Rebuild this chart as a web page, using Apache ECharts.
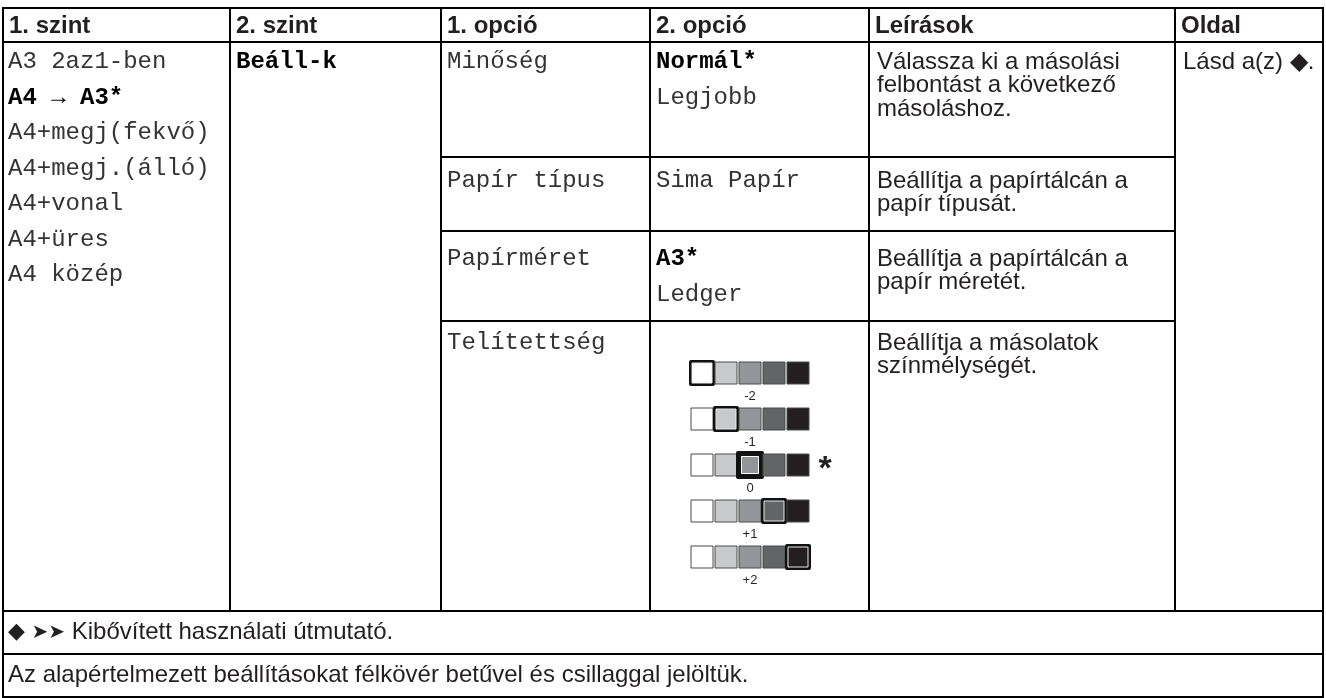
<!DOCTYPE html>
<html><head><meta charset="utf-8">
<script src="https://cdn.jsdelivr.net/npm/echarts@6/dist/echarts.min.js"></script>
<style>html,body{margin:0;padding:0;background:#fff}#c{width:1326px;height:698px}</style>
</head><body><div id="c"></div>
<script>
// ---- content ----
const headers = ['1. szint', '2. szint', '1. opció', '2. opció', 'Leírások', 'Oldal'];
const level1Items = ['A3 2az1-ben', 'A4 → A3*', 'A4+megj(fekvő)', 'A4+megj.(álló)', 'A4+vonal', 'A4+üres', 'A4 közép'];
const level1Defaults = ['A4 → A3*'];
const level2Items = ['Beáll-k'];
const option1Items = ['Minőség', 'Papír típus', 'Papírméret', 'Telítettség'];
const option2Items = [['Normál*', 'Legjobb'], ['Sima Papír'], ['A3*', 'Ledger'], []];
const option2Defaults = ['Normál*', 'A3*'];
const descriptions = [
  ['Válassza ki a másolási', 'felbontást a következő', 'másoláshoz.'],
  ['Beállítja a papírtálcán a', 'papír típusát.'],
  ['Beállítja a papírtálcán a', 'papír méretét.'],
  ['Beállítja a másolatok', 'színmélységét.']
];
const pageRef = 'Lásd a(z) ◆.';
const footnotes = ['◆ ➤➤ Kibővített használati útmutató.', 'Az alapértelmezett beállításokat félkövér betűvel és csillaggal jelöltük.'];
const saturationLevels = ['-2', '-1', '0', '+1', '+2'];
const shadeSteps = ['1', '2', '3', '4', '5'];
const shadeColors = ['#ffffff', '#c8c9cb', '#939598', '#636466', '#231f20'];
const defaultSaturation = '0';

// ---- layout ----
const colX = [3, 230, 441, 650, 869, 1175, 1323];
const headTop = 8, headBottom = 42;
const rowY = [42, 157, 231, 321, 611];
const rowFirstOff = [20, 24, 28, 22];
const footY = [611, 654, 697];
const INK = '#231f20';
const MONO_INK = '#333333';
const SANS = '"Liberation Sans", Arial, sans-serif';
const MONO = '"Liberation Mono", "Courier New", monospace';
const fSans = '24px ' + SANS, fSansB = 'bold 24px ' + SANS;
const fMono = '24px ' + MONO, fMonoB = 'bold 24px ' + MONO;
const monoStep = 35.5, sansStep = 23.5;

const els = [];
function line(x1, y1, x2, y2, w) {
  els.push({type: 'line', silent: true, shape: {x1, y1, x2, y2}, style: {stroke: '#000', lineWidth: w || 2}});
}
function text(t, x, y, font, fill, rich) {
  els.push({type: 'text', silent: true, x, y, style: {text: t, font, fill: fill || INK, rich, align: 'left', verticalAlign: 'middle', textAlign: 'left', textVerticalAlign: 'middle'}});
}
// borders
els.push({type: 'rect', silent: true, shape: {x: colX[0], y: headTop, width: colX[6] - colX[0], height: footY[2] - headTop}, style: {fill: 'none', stroke: '#000', lineWidth: 2}});
line(colX[0], headBottom, colX[6], headBottom);
for (let i = 1; i < colX.length - 1; i++) line(colX[i], headTop, colX[i], rowY[rowY.length - 1]);
for (let r = 1; r < rowY.length - 1; r++) line(colX[2], rowY[r], colX[5], rowY[r]);
line(colX[0], footY[0], colX[6], footY[0]);
line(colX[0], footY[1], colX[6], footY[1]);

// header
headers.forEach((h, i) => text(h, colX[i] + 6, (headTop + headBottom) / 2 + 1, fSansB));
// body
const monoFont = (t, defs) => defs.includes(t) ? fMonoB : fMono;
const monoFill = (t, defs) => defs.includes(t) ? '#000' : MONO_INK;
level1Items.forEach((t, k) => text(t, colX[0] + 5, rowY[0] + rowFirstOff[0] + k * monoStep, monoFont(t, level1Defaults), monoFill(t, level1Defaults)));
level2Items.forEach((t, k) => text(t, colX[1] + 6, rowY[0] + rowFirstOff[0] + k * monoStep, fMonoB, '#000'));
option1Items.forEach((t, r) => text(t, colX[2] + 6, rowY[r] + rowFirstOff[r], fMono, MONO_INK));
option2Items.forEach((list, r) => list.forEach((t, k) => text(t, colX[3] + 6, rowY[r] + rowFirstOff[r] + k * monoStep, monoFont(t, option2Defaults), monoFill(t, option2Defaults))));
descriptions.forEach((list, r) => list.forEach((t, k) => text(t, colX[4] + 8, rowY[r] + rowFirstOff[r] + k * sansStep, fSans)));
text(pageRef, colX[5] + 8, rowY[0] + rowFirstOff[0], fSans);
// footnotes: symbols drawn with their own sizes
const richFoot = {
  d: {fontSize: 22, fontFamily: '"DejaVu Sans", sans-serif', color: INK, verticalAlign: 'middle'},
  a: {fontSize: 20, fontFamily: '"DejaVu Sans", sans-serif', color: INK, verticalAlign: 'middle'},
  t: {fontSize: 24, fontFamily: SANS, color: INK, verticalAlign: 'middle'}
};
footnotes.forEach((t, k) => {
  const m = t.match(/^(◆)\s(➤➤)\s(.*)$/);
  const s = m ? '{d|' + m[1] + '}{t| }{a|' + m[2] + '}{t| ' + m[3] + '}' : '{t|' + t + '}';
  text(s, colX[0] + 5, (footY[k] + footY[k + 1]) / 2, fSans, INK, richFoot);
});

// ---- saturation swatches ----
const swatchData = [];
saturationLevels.forEach((lv) => shadeSteps.forEach((s) => swatchData.push([s, lv])));

const chart = echarts.init(document.getElementById('c'), null, {renderer: 'canvas'});
chart.setOption({
  animation: false,
  backgroundColor: '#fff',
  graphic: {elements: els},
  grid: {left: 690, top: 350, width: 120, height: 230},
  xAxis: {type: 'category', data: shadeSteps, show: false},
  yAxis: {type: 'category', data: saturationLevels, inverse: true, show: false},
  series: [{
    type: 'custom',
    silent: true,
    data: swatchData,
    renderItem(params, api) {
      const j = api.value(0), i = api.value(1); // ordinal indices on category axes
      const c = api.coord([j, i]);
      const col = shadeColors[j];
      const children = [];
      const selected = (i === j);
      if (!selected) {
        children.push({type: 'rect', shape: {x: c[0] - 11, y: c[1] - 11, width: 22, height: 22}, style: {fill: col, stroke: '#4a4a4a', lineWidth: 1}});
      } else if (saturationLevels[i] === defaultSaturation) {
        children.push({type: 'rect', shape: {x: c[0] - 14, y: c[1] - 14, width: 28, height: 28, r: 2}, style: {fill: '#111'}});
        children.push({type: 'rect', shape: {x: c[0] - 8.5, y: c[1] - 8.5, width: 17, height: 17}, style: {fill: col, stroke: '#fff', lineWidth: 1}});
      } else {
        children.push({type: 'rect', shape: {x: c[0] - 13, y: c[1] - 13, width: 26, height: 26, r: 2}, style: {fill: '#111'}});
        children.push({type: 'rect', shape: {x: c[0] - 10, y: c[1] - 10, width: 20, height: 20}, style: {fill: col, stroke: '#e8e8e8', lineWidth: 1}});
      }
      if (j === 2) {
        children.push({type: 'text', x: c[0], y: c[1] + 23, style: {text: saturationLevels[i], font: '13px ' + SANS, fill: INK, align: 'center', verticalAlign: 'middle'}});
      }
      if (j === shadeSteps.length - 1 && saturationLevels[i] === defaultSaturation) {
        children.push({type: 'text', x: c[0] + 27, y: c[1] + 5, style: {text: '*', font: 'bold 34px ' + SANS, fill: INK, align: 'center', verticalAlign: 'middle'}});
      }
      return {type: 'group', children};
    }
  }]
});
</script></body></html>
